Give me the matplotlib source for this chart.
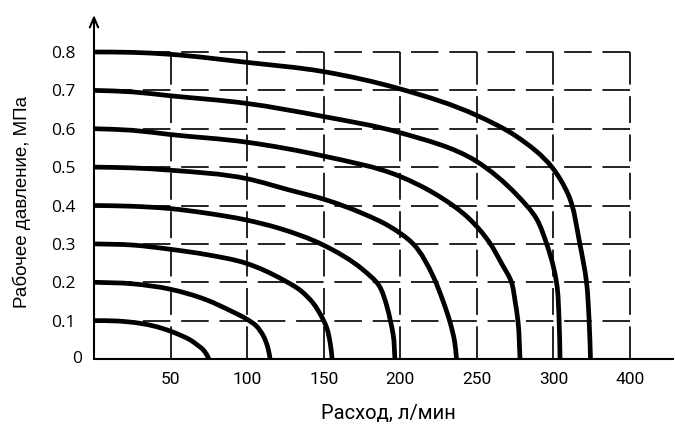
#!/usr/bin/env python3
"""Рабочее давление vs расход: семейство кривых на пунктирной сетке."""

import math

import matplotlib

matplotlib.use("Agg")
import matplotlib.pyplot as plt
from matplotlib.patches import PathPatch
from matplotlib.path import Path

plt.rcParams["lines.scale_dashes"] = False

# x-ticks: positions on the linear scale, and the labels printed under them
x_ticks = [50, 100, 150, 200, 250, 300, 350]
x_labels = ["50", "100", "150", "200", "250", "300", "400"]
y_ticks = [0, 0.1, 0.2, 0.3, 0.4, 0.5, 0.6, 0.7, 0.8]
y_labels = ["0", "0.1", "0.2", "0.3", "0.4", "0.5", "0.6", "0.7", "0.8"]

# curves (flow, л/мин -> pressure, МПа)
q_01 = [0, 15, 30, 40, 49.6, 57, 62.7, 67, 71.3, 73.5, 75]
p_01 = [0.1, 0.099, 0.093, 0.085, 0.073, 0.061, 0.05, 0.038, 0.024, 0.012, 0]
q_02 = [0, 25, 49.6, 73.5, 90, 99.7, 106, 110.6, 113.5, 115]
p_02 = [0.2, 0.196, 0.182, 0.154, 0.124, 0.104, 0.086, 0.06, 0.03, 0]
q_03 = [0, 25, 49.6, 73.5, 99.7, 123.6, 135, 143.2, 148, 151.9, 154.3, 155.5]
p_03 = [0.3, 0.297, 0.286, 0.272, 0.249, 0.206, 0.178, 0.145, 0.115, 0.082, 0.04, 0]
q_04 = [0, 25, 49.6, 73.5, 99.7, 121.4, 149.7, 175.8, 186, 191, 193.5, 195.4, 196.5]
p_04 = [0.4, 0.398, 0.392, 0.38, 0.362, 0.34, 0.297, 0.232, 0.192, 0.141, 0.1, 0.0625, 0]
q_05 = [0, 25, 49.6, 99.7, 127.9, 152, 175, 193.2, 208.4, 221.5, 228, 232.4, 235.5, 236.7]
p_05 = [0.5, 0.498, 0.492, 0.47, 0.44, 0.414, 0.38, 0.345, 0.3, 0.215, 0.15, 0.097, 0.045, 0]
q_06 = [0, 25, 49.6, 99.7, 149.7, 199.7, 222, 245.4, 258.5, 266, 272.6, 275, 276.8, 278.2]
p_06 = [0.6, 0.596, 0.585, 0.565, 0.529, 0.476, 0.432, 0.364, 0.302, 0.25, 0.2, 0.15, 0.1, 0]
q_07 = [0, 25, 49.6, 99.7, 149.7, 199.7, 249.8, 276, 289, 295.5, 300, 302, 303.7, 304.3]
p_07 = [0.7, 0.696, 0.686, 0.666, 0.632, 0.59, 0.515, 0.428, 0.365, 0.301, 0.24, 0.2, 0.1, 0]
q_08 = [0, 25, 49.6, 99.7, 149.7, 199.7, 249.8, 275.9, 299, 309.5, 317.2, 321.6, 323.3, 324.2]
p_08 = [0.8, 0.799, 0.794, 0.773, 0.749, 0.704, 0.635, 0.58, 0.5, 0.43, 0.301, 0.2, 0.1, 0]

CURVES = [(q_01, p_01), (q_02, p_02), (q_03, p_03), (q_04, p_04),
          (q_05, p_05), (q_06, p_06), (q_07, p_07), (q_08, p_08)]

W, H = 675, 425
PX = 72 / 100  # pixels -> points at dpi 100
X0, X_END, Y0, Y_END = 94, 673, 359, 15  # axes box in pixels
SX = (630 - X0) / 350     # pixels per л/мин
SY = (Y0 - 52) / 0.8      # pixels per МПа
X_MAX = (X_END - X0) / SX
Y_MAX = (Y0 - Y_END) / SY
INK = "#000000"
GRID = "#222222"


def smooth_path(q, p):
    """Smooth Bezier path through the read points (chord-length tangents)."""
    pts = [(x * SX, y * SY) for x, y in zip(q, p)]
    n = len(pts)
    d = [math.dist(pts[i], pts[i + 1]) for i in range(n - 1)]
    s = [((pts[i + 1][0] - pts[i][0]) / d[i], (pts[i + 1][1] - pts[i][1]) / d[i])
         for i in range(n - 1)]
    m = [s[0]]
    for i in range(1, n - 1):
        w = d[i - 1] + d[i]
        m.append(((d[i] * s[i - 1][0] + d[i - 1] * s[i][0]) / w,
                  (d[i] * s[i - 1][1] + d[i - 1] * s[i][1]) / w))
    m.append(s[-1])
    verts, codes = [pts[0]], [Path.MOVETO]
    for i in range(n - 1):
        h = d[i] / 3
        verts += [(pts[i][0] + m[i][0] * h, pts[i][1] + m[i][1] * h),
                  (pts[i + 1][0] - m[i + 1][0] * h, pts[i + 1][1] - m[i + 1][1] * h),
                  pts[i + 1]]
        codes += [Path.CURVE4] * 3
    return Path([(x / SX, y / SY) for x, y in verts], codes)


fig = plt.figure(figsize=(W / 100, H / 100), dpi=100)
ax = fig.add_axes([X0 / W, 1 - Y0 / H, (X_END - X0) / W, (Y0 - Y_END) / H])
ax.set_xlim(0, X_MAX)
ax.set_ylim(0, Y_MAX)
for sp in ax.spines.values():
    sp.set_visible(False)

# dashed grid: vertical lines have gaps centred on every horizontal line
cell = (Y0 - 52) / 8
gap = 11.5
vdash = [cell - gap / 2, gap] + [cell - gap, gap] * 6 + [cell - gap / 2, 60]
vdash = [v * PX for v in vdash]
for xv in x_ticks:
    ax.plot([xv, xv], [0, y_ticks[-1]], color=GRID, lw=1.4,
            linestyle=(0, vdash), zorder=1)
for yv in y_ticks[1:]:
    ax.plot([x_ticks[-1], 0], [yv, yv], color=GRID, lw=1.4,
            linestyle=(0, (27.5 * PX, 10.8 * PX)), zorder=1)

for q, p in CURVES:
    ax.add_patch(PathPatch(smooth_path(q, p), fill=False, edgecolor="black",
                           lw=3.4, capstyle="round", joinstyle="round",
                           zorder=3))

# axes: plain x line, y line with an open arrow head
ax.plot([0, X_MAX], [0, 0], color=INK, lw=1.5, clip_on=False, zorder=4)
ax.annotate("", xy=(0, Y_MAX), xytext=(0, 0), annotation_clip=False,
            arrowprops=dict(arrowstyle="->,head_length=0.7,head_width=0.3",
                            color=INK, lw=1.5, shrinkA=0, shrinkB=0))

ax.set_xticks(x_ticks, x_labels, fontfamily="Roboto", fontsize=12.5)
ax.set_yticks(y_ticks, [""] + y_labels[1:], fontfamily="Open Sans", fontsize=12.5)
ax.tick_params(axis="x", length=0, pad=9, colors=INK)
ax.tick_params(axis="y", length=0, pad=13, colors=INK)
ax.text(-12 / SX, 0, y_labels[0], fontfamily="Open Sans",
        fontsize=12.5, color=INK, ha="right", va="center")

fig.text(388 / W, 1 - 419 / H, "Расход, л/мин", fontfamily="Roboto",
         fontsize=14.5, color=INK, ha="center", va="baseline")
fig.text(22 / W, 1 - 202 / H, "Рабочее давление, МПа",
         fontfamily="Liberation Sans", fontsize=13.5, color=INK,
         rotation=90, ha="center", va="center")

fig.savefig("out.png", dpi=100)
